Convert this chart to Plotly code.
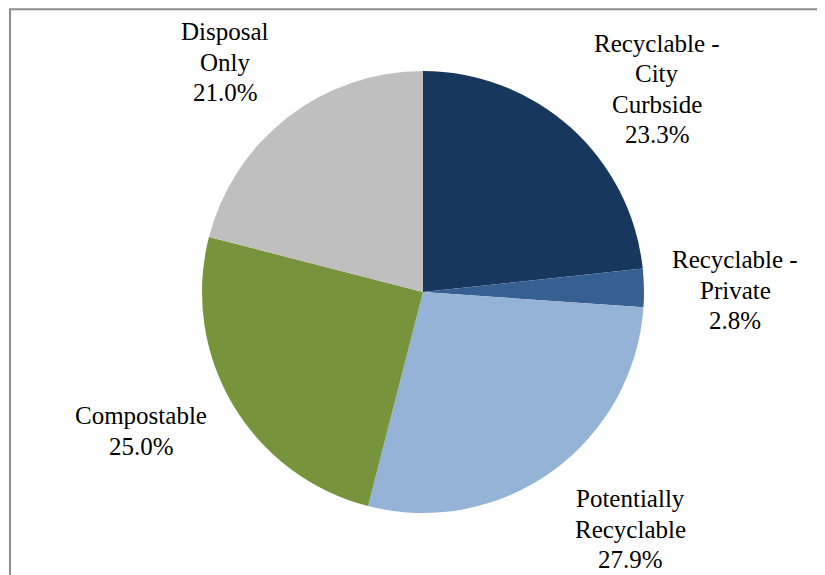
import plotly.graph_objects as go

OFF = 8                      # default page body margin of the browser
W, H = 825 - OFF, 575 - OFF  # figure size so it fills the window

categories = ["Recyclable - City Curbside", "Recyclable - Private",
              "Potentially Recyclable", "Compostable", "Disposal Only"]
values = [23.3, 2.8, 27.9, 25.0, 21.0]
label_lines = [["Recyclable -", "City", "Curbside"],
               ["Recyclable -", "Private"],
               ["Potentially", "Recyclable"],
               ["Compostable"],
               ["Disposal", "Only"]]
colors = ["#17375E", "#376092", "#95B3D7", "#77933C", "#BFBFBF"]

# label block centre (window pixels) and line pitch
label_pos = [(657, 89), (735, 290), (630, 529), (141, 431), (225, 62)]
pitch = 30.5

cx, cy, r = 423 - OFF, 292 - OFF, 221


def px_x(x):
    return (x - OFF) / W


def px_y(y):
    return 1 - (y - OFF) / H


fig = go.Figure(go.Pie(
    labels=categories,
    values=values,
    sort=False,
    direction="clockwise",
    rotation=0,
    marker=dict(colors=colors, line=dict(width=0)),
    textinfo="none",
    hoverinfo="label+percent",
    showlegend=False,
    domain=dict(x=[(cx - r) / W, (cx + r) / W],
                y=[1 - (cy + r) / H, 1 - (cy - r) / H]),
))

font = dict(family="Times New Roman, Liberation Serif, DejaVu Serif, serif",
            size=25, color="#000000")
annotations = []
for lines, v, (px, py) in zip(label_lines, values, label_pos):
    all_lines = lines + [f"{v:.1f}%"]
    n = len(all_lines)
    for i, t in enumerate(all_lines):
        yy = py + (i - (n - 1) / 2) * pitch
        annotations.append(dict(
            x=px_x(px), y=px_y(yy), xref="paper", yref="paper",
            text=t, showarrow=False, xanchor="center", yanchor="middle",
            font=font))

fig.update_layout(
    width=W, height=H,
    margin=dict(l=0, r=0, t=0, b=0),
    paper_bgcolor="white",
    plot_bgcolor="white",
    annotations=annotations,
    shapes=[dict(type="rect", xref="paper", yref="paper",
                 x0=2 / W, x1=1.05, y0=-0.05, y1=1 - 1.2 / H,
                 line=dict(color="#8C8C8C", width=2), fillcolor="rgba(0,0,0,0)",
                 layer="below")],
)

fig.write_html("out.html")
